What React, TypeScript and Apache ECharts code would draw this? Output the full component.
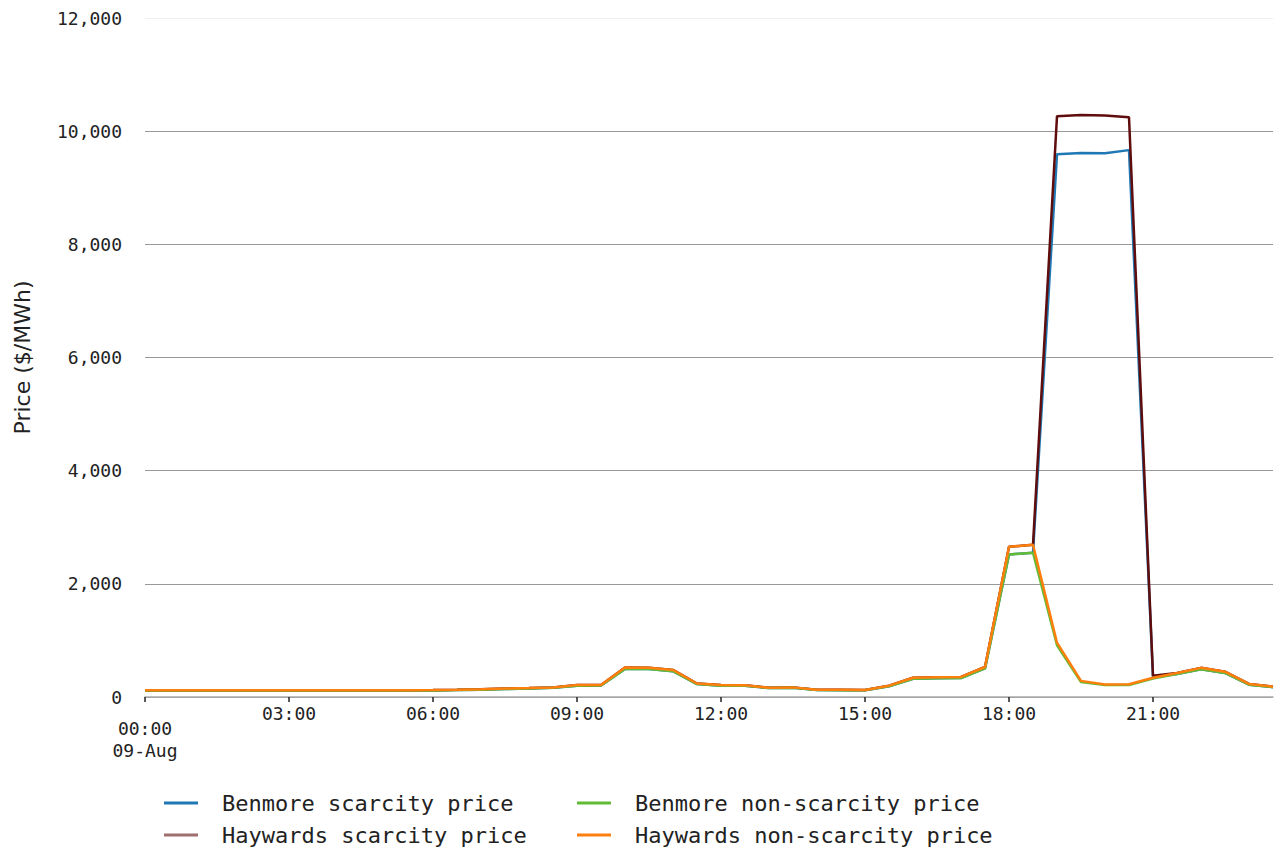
import React, { useEffect, useRef } from "react";
import * as echarts from "echarts";

const times: string[] = [];
for (let h = 0; h < 24; h++) {
  for (const m of ["00", "30"]) times.push(`${String(h).padStart(2, "0")}:${m}`);
}

const benmoreNonScarcity = [
  115, 115, 115, 115, 115, 115, 115, 115, 115, 115, 115, 115,
  117, 122, 128, 140, 150, 162, 200, 202, 495, 495, 455, 228,
  200, 198, 158, 162, 122, 120, 118, 190, 322, 330, 336, 505,
  2520, 2550, 915, 265, 210, 212, 325, 405, 490, 425, 218, 174,
];
const haywardsNonScarcity = [
  120, 120, 120, 120, 120, 120, 120, 120, 120, 120, 120, 120,
  122, 128, 135, 150, 158, 170, 210, 212, 520, 518, 478, 238,
  210, 208, 165, 170, 128, 126, 124, 200, 340, 348, 355, 530,
  2655, 2690, 960, 285, 222, 225, 340, 425, 515, 448, 230, 183,
];
const benmoreScarcity = [
  115, 115, 115, 115, 115, 115, 115, 115, 115, 115, 115, 115,
  117, 122, 128, 140, 150, 162, 200, 202, 495, 495, 455, 228,
  200, 198, 158, 162, 122, 120, 118, 190, 322, 330, 336, 505,
  2520, 2550, 9590, 9615, 9610, 9665, 355, 405, 490, 425, 218, 174,
];
const haywardsScarcity = [
  120, 120, 120, 120, 120, 120, 120, 120, 120, 120, 120, 120,
  122, 128, 135, 150, 158, 170, 210, 212, 520, 518, 478, 238,
  210, 208, 165, 170, 128, 126, 124, 200, 340, 348, 355, 530,
  2655, 2690, 10265, 10285, 10278, 10245, 375, 425, 515, 448, 230, 183,
];

const mono = "DejaVu Sans Mono";

export default function App() {
  const ref = useRef<HTMLDivElement>(null);
  useEffect(() => {
    if (!ref.current) return;
    const chart = echarts.init(ref.current, null, { renderer: "svg" });
    const legendText = {
      fontFamily: mono,
      fontSize: 22,
      lineHeight: 22,
      color: "#222",
      padding: [0, 0, 0, 19],
    };
    const legendBase = {
      orient: "vertical",
      top: 792,
      padding: 0,
      itemWidth: 34,
      itemHeight: 3,
      itemGap: 10,
      icon: "rect",
      textStyle: legendText,
    };
    chart.setOption({
      animation: false,
      backgroundColor: "#fff",
      grid: { left: 145, right: 10, top: 18, bottom: 153 },
      legend: [
        {
          ...legendBase,
          left: 164,
          data: [
            { name: "Benmore scarcity price", itemStyle: { color: "#1f77b4" } },
            { name: "Haywards scarcity price", itemStyle: { color: "#9d6f6f" } },
          ],
        },
        {
          ...legendBase,
          left: 577,
          data: [
            { name: "Benmore non-scarcity price", itemStyle: { color: "#62bb35" } },
            { name: "Haywards non-scarcity price", itemStyle: { color: "#ff7f0e" } },
          ],
        },
      ],
      xAxis: {
        type: "category",
        data: times,
        boundaryGap: false,
        axisLine: { lineStyle: { color: "#aaa", width: 1.5 } },
        axisTick: { interval: 5, length: 5, lineStyle: { color: "#222", width: 1.5 } },
        axisLabel: {
          interval: 5,
          margin: 5,
          fontFamily: mono,
          fontSize: 18,
          lineHeight: 22,
          color: "#222",
          formatter: (v: string, i: number) =>
            i === 0 ? `{s| }\n{f|${v}}\n{f|09-Aug}` : `{f|${v}}`,
          rich: {
            s: { fontSize: 1, lineHeight: 15 },
            f: { fontFamily: mono, fontSize: 18, lineHeight: 22, color: "#222" },
          },
        },
        splitLine: { show: false },
      },
      yAxis: {
        type: "value",
        min: 0,
        max: 12000,
        interval: 2000,
        name: "Price ($/MWh)",
        nameLocation: "middle",
        nameGap: 112,
        nameTextStyle: { fontFamily: "DejaVu Sans", fontSize: 22, color: "#222" },
        axisLine: { show: false },
        axisTick: { show: false },
        axisLabel: {
          margin: 23,
          fontFamily: mono,
          fontSize: 18,
          color: "#222",
          formatter: (v: number) => v.toLocaleString("en-US"),
        },
        splitLine: {
          lineStyle: {
            color: ["#999", "#999", "#999", "#999", "#999", "#999", "#eee"],
            width: 1,
          },
        },
      },
      series: [
        {
          name: "Benmore scarcity price",
          type: "line",
          data: benmoreScarcity,
          showSymbol: false,
          lineStyle: { color: "#1f77b4", width: 2.5 },
          itemStyle: { color: "#1f77b4" },
        },
        {
          name: "Haywards scarcity price",
          type: "line",
          data: haywardsScarcity,
          showSymbol: false,
          lineStyle: { color: "#5e0c0c", width: 2.5 },
          itemStyle: { color: "#9d6f6f" },
        },
        {
          name: "Benmore non-scarcity price",
          type: "line",
          data: benmoreNonScarcity,
          showSymbol: false,
          lineStyle: { color: "#62bb35", width: 2.5 },
          itemStyle: { color: "#62bb35" },
        },
        {
          name: "Haywards non-scarcity price",
          type: "line",
          data: haywardsNonScarcity,
          showSymbol: false,
          lineStyle: { color: "#ff7f0e", width: 2.5 },
          itemStyle: { color: "#ff7f0e" },
        },
      ],
    });
    return () => chart.dispose();
  }, []);
  return (
    <div
      ref={ref}
      style={{ position: "fixed", left: 0, top: 0, width: 1283, height: 850, background: "#fff" }}
    />
  );
}
